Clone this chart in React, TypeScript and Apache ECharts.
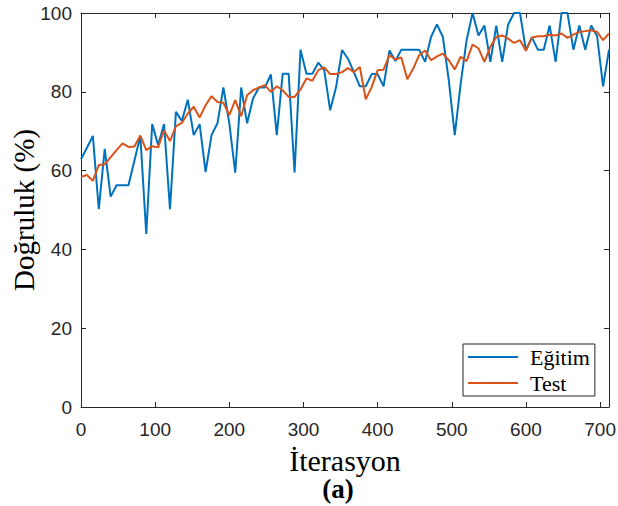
import React, { useEffect, useRef } from "react";
import * as echarts from "echarts";

const ITERATIONS = [
  0, 8, 16, 24, 32, 40, 48, 56, 64, 72, 80, 88, 96, 104, 112, 120, 128, 136, 144, 152,
  160, 168, 176, 184, 192, 200, 208, 216, 224, 232, 240, 248, 256, 264, 272, 280, 288, 296, 304, 312,
  320, 328, 336, 344, 352, 360, 368, 376, 384, 392, 400, 408, 416, 424, 432, 440, 448, 456, 464, 472,
  480, 488, 496, 504, 512, 520, 528, 536, 544, 552, 560, 568, 576, 584, 592, 600, 608, 616, 624, 632,
  640, 648, 656, 664, 672, 680, 688, 696, 704, 712,
];

const EGITIM = [
  62.9, 65.8, 68.8, 50.2, 65.5, 53.4, 56.3, 56.3, 56.3, 62.5, 68.8, 43.9,
  71.8, 66.5, 71.8, 50.2, 74.9, 72.6, 78, 69, 71.8, 59.6, 69, 72,
  81.1, 72, 59.5, 81.1, 72, 78.3, 81.1, 81.1, 84.4, 69, 84.6, 84.6,
  59.5, 90.7, 84.6, 84.6, 87.4, 85.5, 75.3, 81.2, 90.6, 88.4, 85, 81.4,
  81.4, 84.5, 84.5, 81.4, 90.5, 87.8, 90.7, 90.7, 90.7, 90.7, 87.6, 93.9,
  97.1, 93.9, 82.9, 69, 82.1, 93.1, 100, 94.3, 96.8, 87.6, 96.8, 87.6,
  97.1, 100, 100, 90.5, 93.8, 90.7, 90.7, 96.8, 87.6, 100, 100, 90.7,
  96.8, 90.7, 96.8, 94.1, 81.4, 90.7,
];

const TEST = [
  58.4, 58.9, 57.4, 61.4, 61.6, 63.4, 65.2, 66.9, 66, 66.1, 68.9, 65.2,
  66.2, 65.9, 70.2, 67.5, 71.2, 72.1, 74.5, 76.2, 73.5, 76.6, 78.9, 77.4,
  77.2, 74.1, 77.9, 73.8, 79.1, 80.4, 81.1, 81.7, 80, 81.4, 80.4, 78.7,
  78.7, 80.6, 83.4, 82.8, 85.5, 86.2, 84.5, 84.5, 85, 86, 85, 86.3,
  78.1, 81.2, 85.5, 85.6, 89.3, 88.2, 88.7, 83.2, 85.9, 89.3, 90.5, 88,
  89, 89.7, 88, 85.7, 88.9, 87.8, 92, 91, 87.6, 91.4, 93.9, 94.3,
  93.5, 92.4, 93.1, 90.4, 93.8, 94.1, 94.1, 94.5, 94.3, 94.8, 93.7, 94.5,
  95.2, 95.4, 95.6, 95.2, 93.1, 94.8,
];

const SERIES_NAMES = ["Eğitim", "Test"];
const X_TITLE = "İterasyon";
const Y_TITLE = "Doğruluk (%)";
const CAPTION = "(a)";

const AXIS_COLOR = "#262626";
const SERIF = "Liberation Serif";
const SANS = "Liberation Sans";

export default function App() {
  const ref = useRef<HTMLDivElement>(null);

  useEffect(() => {
    document.body.style.margin = "0";
    if (!ref.current) return;
    const chart = echarts.init(ref.current, undefined, { renderer: "svg" });

    const baseAxis = {
      type: "value" as const,
      axisLine: { show: true, onZero: false, lineStyle: { color: AXIS_COLOR, width: 1 } },
      axisTick: { show: true, inside: true, length: 5, lineStyle: { color: AXIS_COLOR } },
      splitLine: { show: false },
    };

    chart.setOption({
      animation: false,
      backgroundColor: "#ffffff",
      grid: {
        left: 81,
        right: 9,
        top: 13,
        bottom: 99,
        containLabel: false,
        outerBoundsMode: "none",
      },
      legend: {
        data: SERIES_NAMES,
        orient: "vertical",
        left: 463,
        top: 344,
        icon: "rect",
        itemWidth: 50,
        itemHeight: 2,
        itemGap: 4,
        padding: [2, 5, 2, 5],
        borderColor: AXIS_COLOR,
        borderWidth: 1,
        backgroundColor: "#ffffff",
        textStyle: {
          fontFamily: SERIF,
          fontSize: 22,
          lineHeight: 22,
          color: "#000000",
          padding: [0, 0, 0, 7],
        },
      },
      xAxis: [
        {
          ...baseAxis,
          min: 0,
          max: 712,
          interval: 100,
          position: "bottom",
          axisLabel: {
            show: true,
            fontFamily: SANS,
            fontSize: 19,
            color: AXIS_COLOR,
            margin: 13,
            showMaxLabel: false,
          },
          name: X_TITLE,
          nameLocation: "middle",
          nameGap: 38,
          nameTextStyle: { fontFamily: SERIF, fontSize: 30, color: "#000000" },
        },
        {
          ...baseAxis,
          min: 0,
          max: 712,
          interval: 100,
          position: "top",
          axisLabel: { show: false },
        },
      ],
      yAxis: [
        {
          ...baseAxis,
          min: 0,
          max: 100,
          interval: 20,
          position: "left",
          axisLabel: {
            show: true,
            fontFamily: SANS,
            fontSize: 19,
            color: AXIS_COLOR,
            margin: 9,
          },
        },
        {
          ...baseAxis,
          min: 0,
          max: 100,
          interval: 20,
          position: "right",
          axisLabel: { show: false },
        },
      ],
      series: [
        {
          name: SERIES_NAMES[0],
          type: "line",
          xAxisIndex: 0,
          yAxisIndex: 0,
          data: ITERATIONS.map((x, i) => [x, EGITIM[i]]),
          showSymbol: false,
          symbol: "none",
          color: "#0072BD",
          lineStyle: { width: 2, color: "#0072BD" },
          z: 2,
        },
        {
          name: SERIES_NAMES[1],
          type: "line",
          xAxisIndex: 0,
          yAxisIndex: 0,
          data: ITERATIONS.map((x, i) => [x, TEST[i]]),
          showSymbol: false,
          symbol: "none",
          color: "#D95319",
          lineStyle: { width: 2, color: "#D95319" },
          z: 3,
        },
      ],
      graphic: [
        {
          type: "text",
          x: 24,
          y: 210,
          rotation: Math.PI / 2,
          style: {
            text: Y_TITLE,
            fontFamily: SERIF,
            fontSize: 29,
            fill: "#000000",
            align: "center",
            verticalAlign: "middle",
          },
        },
        {
          type: "text",
          x: 338,
          y: 489,
          style: {
            text: CAPTION,
            fontFamily: SERIF,
            fontWeight: "bold",
            fontSize: 27,
            fill: "#000000",
            align: "center",
            verticalAlign: "middle",
          },
        },
      ],
    });

    return () => chart.dispose();
  }, []);

  return <div ref={ref} style={{ width: 618, height: 506 }} />;
}
